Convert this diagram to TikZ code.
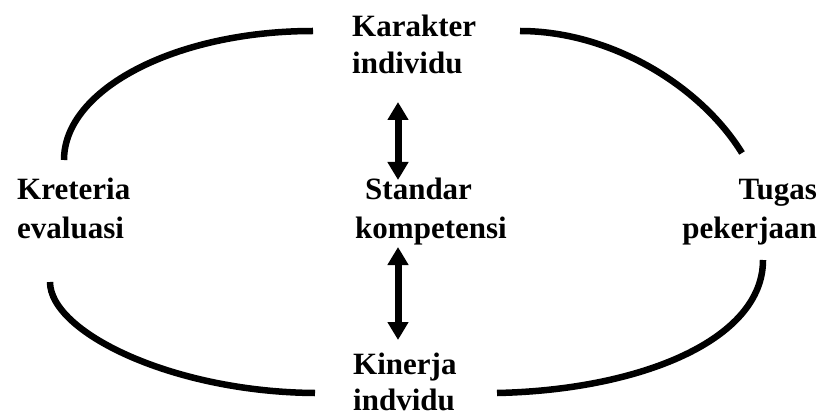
\documentclass[tikz,border=0pt]{standalone}
\usepackage{fontspec}
\setmainfont{Liberation Serif}
\usetikzlibrary{arrows.meta}
\begin{document}
\begin{tikzpicture}[x=1pt,y=-1pt,
  lbl/.style={inner sep=0pt,font=\fontsize{31}{36}\selectfont\bfseries},
  ring/.style={line width=6.5pt,line cap=butt},
  link/.style={line width=7pt,{Triangle[width=20pt,length=18pt]}-{Triangle[width=20pt,length=18pt]}}]
\useasboundingbox (0,0) rectangle (832,414);

% labels, one node per line (base anchors)
\node[lbl,anchor=base west] (kar1) at (352,37) {Karakter};
\node[lbl,anchor=base west] (kar2) at (352,74) {individu};
\node[lbl,anchor=base west] (kre1) at (17,200) {Kreteria};
\node[lbl,anchor=base west] (kre2) at (17,238) {evaluasi};
\node[lbl,anchor=base west] (std1) at (365,200) {Standar};
\node[lbl,anchor=base west] (std2) at (355,238) {kompetensi};
\node[lbl,anchor=base east] (tug1) at (817,200) {Tugas};
\node[lbl,anchor=base east] (tug2) at (817,238) {pekerjaan};
\node[lbl,anchor=base west] (kin1) at (353,374) {Kinerja};
\node[lbl,anchor=base west] (kin2) at (353,410) {indvidu};

% end points of the ring segments and the arrows
\coordinate (tlA) at (64,160);   \coordinate (tlB) at (313,31);
\coordinate (trA) at (520,31);   \coordinate (trB) at (742,153);
\coordinate (blA) at (50,282);   \coordinate (blB) at (315,393);
\coordinate (brA) at (497,393);  \coordinate (brB) at (763,260);
\coordinate (upA) at (398,102);  \coordinate (upB) at (398,180);
\coordinate (loA) at (398,247);  \coordinate (loB) at (398,340);

% the four arcs of the ring
\draw[ring] (tlA) .. controls (64,89) and (176,31) .. (tlB);
\draw[ring] (trA) .. controls (610,31) and (700,85) .. (trB);
\draw[ring] (blA) .. controls (50,332) and (172,392) .. (blB);
\draw[ring] (brA) .. controls (640,390) and (763,340) .. (brB);

% double-headed arrows
\draw[link] (upA) -- (upB);
\draw[link] (loA) -- (loB);
\end{tikzpicture}
\end{document}
